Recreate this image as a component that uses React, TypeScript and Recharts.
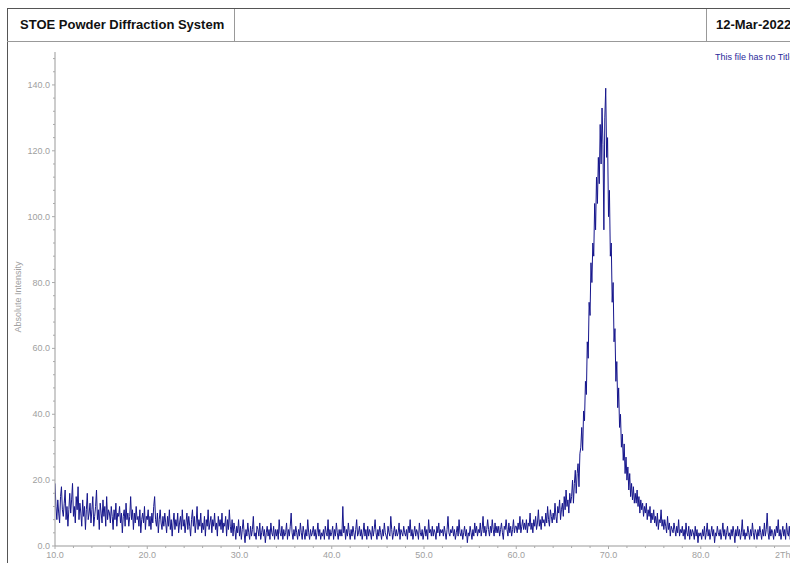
import React from 'react';
import { LineChart, Line, XAxis, YAxis } from 'recharts';

// Intensity readings, 0.1° 2Theta steps, one array per 10° span
const seg10 = [
  19, 12, 8, 14, 10, 7, 15, 18, 11, 9,
  13, 17, 8, 12, 6, 11, 16, 10, 14, 19,
  9, 12, 7, 15, 11, 18, 8, 13, 10, 6,
  14, 9, 12, 5, 11, 16, 8, 10, 13, 7,
  11, 15, 6, 9, 12, 17, 8, 11, 5, 13,
  10, 7, 14, 9, 12, 6, 15, 8, 11, 10,
  7, 12, 9, 5, 11, 8, 13, 6, 10, 9,
  12, 7, 10, 4, 9, 11, 6, 13, 8, 10,
  6, 9, 15, 8, 11, 5, 10, 7, 12, 8,
  9, 6, 11, 4, 8, 10, 7, 12, 5, 9,
];
const seg20 = [
  8, 11, 6, 9, 5, 10, 7, 12, 15, 8,
  6, 10, 4, 8, 11, 7, 5, 9, 6, 10,
  7, 4, 9, 6, 11, 5, 8, 3, 7, 10,
  5, 8, 6, 10, 4, 7, 9, 5, 11, 6,
  8, 4, 7, 10, 5, 9, 6, 3, 8, 11,
  6, 9, 4, 7, 12, 5, 8, 6, 10, 4,
  7, 5, 9, 3, 8, 6, 11, 5, 7, 9,
  4, 8, 6, 10, 5, 7, 3, 9, 6, 8,
  5, 10, 4, 7, 6, 9, 3, 8, 5, 11,
  6, 4, 8, 3, 7, 5, 2, 6, 4, 8,
];
const seg30 = [
  3, 6, 2, 5, 8, 4, 1, 5, 3, 7,
  4, 2, 6, 3, 5, 9, 3, 4, 2, 6,
  5, 3, 7, 2, 4, 6, 3, 5, 1, 4,
  6, 3, 5, 2, 7, 4, 3, 6, 2, 5,
  3, 5, 2, 8, 4, 3, 6, 2, 5, 3,
  4, 7, 2, 5, 3, 6, 10, 4, 2, 5,
  3, 6, 4, 2, 5, 3, 7, 4, 2, 6,
  4, 2, 5, 3, 8, 4, 2, 5, 3, 4,
  6, 3, 5, 2, 4, 7, 3, 5, 2, 4,
  3, 5, 2, 6, 4, 3, 8, 2, 5, 3,
];
const seg40 = [
  4, 6, 2, 5, 3, 7, 4, 2, 5, 3,
  5, 3, 12, 4, 6, 2, 5, 3, 7, 4,
  2, 5, 3, 6, 4, 2, 5, 8, 3, 4,
  6, 3, 5, 2, 4, 7, 3, 5, 2, 6,
  3, 5, 4, 2, 6, 3, 5, 8, 4, 2,
  5, 3, 6, 4, 2, 5, 3, 7, 4, 3,
  2, 6, 4, 3, 9, 5, 2, 4, 6, 3,
  5, 3, 4, 7, 2, 5, 4, 3, 6, 4,
  3, 5, 2, 6, 4, 8, 3, 5, 2, 4,
  6, 3, 5, 4, 2, 7, 4, 3, 5, 2,
];
const seg50 = [
  4, 6, 3, 5, 2, 8, 4, 5, 3, 6,
  3, 5, 4, 2, 6, 4, 7, 3, 5, 4,
  5, 3, 6, 4, 2, 5, 9, 4, 3, 5,
  4, 6, 3, 5, 2, 4, 6, 3, 8, 4,
  3, 5, 2, 4, 6, 3, 5, 1, 4, 3,
  6, 4, 2, 5, 3, 7, 4, 6, 3, 5,
  4, 7, 3, 5, 9, 4, 6, 3, 5, 8,
  5, 3, 6, 4, 8, 5, 3, 7, 4, 6,
  4, 6, 3, 5, 7, 4, 2, 6, 5, 8,
  5, 3, 7, 4, 6, 3, 5, 8, 4, 6,
];
const seg60 = [
  6, 4, 7, 5, 9, 4, 6, 8, 5, 7,
  5, 8, 4, 7, 6, 10, 5, 7, 4, 8,
  6, 9, 5, 7, 11, 6, 8, 5, 9, 7,
  8, 6, 10, 7, 12, 8, 6, 11, 9, 7,
  10, 8, 13, 9, 7, 12, 10, 14, 8, 11,
  13, 9, 15, 11, 17, 12, 14, 10, 16, 13,
  15, 20, 13, 19, 23, 16, 22, 25, 18, 28,
  30, 36, 29, 41, 38, 50, 46, 62, 57, 74,
  70, 86, 80, 92, 88, 104, 96, 112, 104, 118,
  110, 128, 116, 133, 122, 96, 130, 139, 118, 124,
];
const seg70 = [
  100, 108, 88, 92, 74, 80, 62, 66, 50, 56,
  42, 48, 36, 40, 30, 34, 26, 31, 22, 27,
  20, 24, 17, 22, 15, 19, 14, 18, 13, 16,
  13, 17, 12, 15, 10, 14, 11, 13, 9, 12,
  10, 13, 8, 11, 9, 12, 7, 10, 8, 11,
  7, 9, 6, 10, 5, 8, 7, 11, 6, 8,
  5, 8, 6, 4, 9, 5, 7, 3, 6, 5,
  4, 7, 5, 3, 6, 4, 8, 3, 5, 4,
  6, 3, 5, 2, 7, 4, 3, 6, 2, 5,
  3, 5, 4, 2, 6, 3, 5, 1, 4, 3,
];
const seg80 = [
  4, 2, 5, 3, 6, 2, 4, 7, 3, 5,
  2, 4, 6, 3, 5, 1, 4, 3, 6, 4,
  3, 5, 2, 4, 7, 3, 5, 2, 4, 6,
  3, 4, 2, 5, 3, 6, 4, 1, 5, 3,
  6, 3, 5, 2, 4, 8, 3, 5, 2, 4,
  3, 6, 4, 2, 5, 3, 7, 4, 2, 5,
  4, 2, 5, 3, 6, 4, 2, 5, 3, 7,
  3, 5, 10, 4, 2, 6, 3, 5, 4, 2,
  5, 3, 6, 4, 8, 3, 5, 2, 4, 6,
  3, 5, 2, 7, 4, 3, 6, 2, 4, 5,
  3,
];

const xStart = 10;
const xStep = 0.1;

const xMajor = [10, 20, 30, 40, 50, 60, 70, 80, 90];
const xLabels = ['10.0', '20.0', '30.0', '40.0', '50.0', '60.0', '70.0', '80.0', '2Theta'];
const xTicks = [10, 12, 14, 16, 18, 20, 22, 24, 26, 28, 30, 32, 34, 36, 38, 40, 42, 44, 46, 48, 50, 52, 54, 56, 58, 60, 62, 64, 66, 68, 70, 72, 74, 76, 78, 80, 82, 84, 86, 88, 90];
const yMajor = [0, 20, 40, 60, 80, 100, 120, 140];
const yLabels = ['0.0', '20.0', '40.0', '60.0', '80.0', '100.0', '120.0', '140.0'];
const yTicks = [0, 4, 8, 12, 16, 20, 24, 28, 32, 36, 40, 44, 48, 52, 56, 60, 64, 68, 72, 76, 80, 84, 88, 92, 96, 100, 104, 108, 112, 116, 120, 124, 128, 132, 136, 140, 144, 148];

const segments = [seg10, seg20, seg30, seg40, seg50, seg60, seg70, seg80];
const data = segments.flat().map((v, i) => ({ x: Math.round((xStart + i * xStep) * 10) / 10, y: v }));

const FONT = '"Liberation Sans", Arial, sans-serif';
const TICK_COLOR = '#a0a0a0';

const XTick = (props: any) => {
  const { x, y, payload } = props;
  const idx = xMajor.indexOf(payload.value);
  const major = idx >= 0;
  const isLast = idx === xMajor.length - 1;
  return (
    <g>
      <line x1={x} x2={x} y1={y} y2={y + (major ? 3 : 2)} stroke="#aaa" />
      {major && (
        <text x={isLast ? x - 4 : x} y={y + 12} textAnchor="middle" fontSize={9} fill={TICK_COLOR} fontFamily={FONT}>
          {xLabels[idx]}
        </text>
      )}
    </g>
  );
};

const YTick = (props: any) => {
  const { x, y, payload } = props;
  const idx = yMajor.indexOf(payload.value);
  const major = idx >= 0;
  return (
    <g>
      <line x1={x - (major ? 3 : 2)} x2={x} y1={y} y2={y} stroke="#aaa" />
      {major && (
        <text x={x - 5} y={y + 3} textAnchor="end" fontSize={9} fill={TICK_COLOR} fontFamily={FONT}>
          {yLabels[idx]}
        </text>
      )}
    </g>
  );
};

export default function App() {
  return (
    <div style={{ position: 'fixed', left: 0, top: 0, width: 790, height: 563, overflow: 'hidden', background: '#fff', fontFamily: FONT }}>
      <div style={{ position: 'absolute', left: 7, top: 8, width: 820, height: 620, borderTop: '1px solid #555', borderLeft: '1px solid #555' }} />
      <div style={{ position: 'absolute', left: 7, top: 41, width: 820, height: 0, borderTop: '1px solid #999' }} />
      <div style={{ position: 'absolute', left: 234, top: 9, width: 0, height: 32, borderLeft: '1px solid #999' }} />
      <div style={{ position: 'absolute', left: 706, top: 9, width: 0, height: 32, borderLeft: '1px solid #999' }} />
      <div style={{ position: 'absolute', left: 20, top: 17, fontSize: 13, fontWeight: 'bold', color: '#111', lineHeight: '16px', whiteSpace: 'nowrap' }}>
        STOE Powder Diffraction System
      </div>
      <div style={{ position: 'absolute', left: 716, top: 17, fontSize: 13, fontWeight: 'bold', color: '#111', lineHeight: '16px', whiteSpace: 'nowrap' }}>
        12-Mar-2022
      </div>
      <div style={{ position: 'absolute', left: 715, top: 52, fontSize: 9, color: '#2a2a9a', lineHeight: '11px', whiteSpace: 'nowrap' }}>
        This file has no Title
      </div>
      <div style={{ position: 'absolute', left: 18, top: 297, width: 0, height: 0 }}>
        <div style={{ position: 'absolute', left: 0, top: 0, transform: 'translate(-50%, -50%) rotate(-90deg)', fontSize: 9, color: TICK_COLOR, whiteSpace: 'nowrap', lineHeight: '11px' }}>
          Absolute Intensity
        </div>
      </div>
      <div style={{ position: 'absolute', left: 0, top: 0 }}>
        <LineChart width={800} height={563} data={data} margin={{ top: 52, right: 7, bottom: 0, left: 0 }}>
          <XAxis
            type="number"
            dataKey="x"
            domain={[10, 90]}
            ticks={xTicks}
            interval={0}
            tickSize={0}
            tickMargin={0}
            tickLine={false}
            axisLine={{ stroke: '#999' }}
            tick={<XTick />}
            height={17}
            allowDataOverflow
          />
          <YAxis
            type="number"
            dataKey="y"
            domain={[0, 150]}
            ticks={yTicks}
            interval={0}
            tickSize={0}
            tickMargin={0}
            tickLine={false}
            axisLine={{ stroke: '#999' }}
            tick={<YTick />}
            width={55}
            allowDataOverflow
          />
          <Line
            type="linear"
            dataKey="y"
            stroke="#16168c"
            strokeWidth={1}
            dot={false}
            isAnimationActive={false}
          />
        </LineChart>
      </div>
    </div>
  );
}
